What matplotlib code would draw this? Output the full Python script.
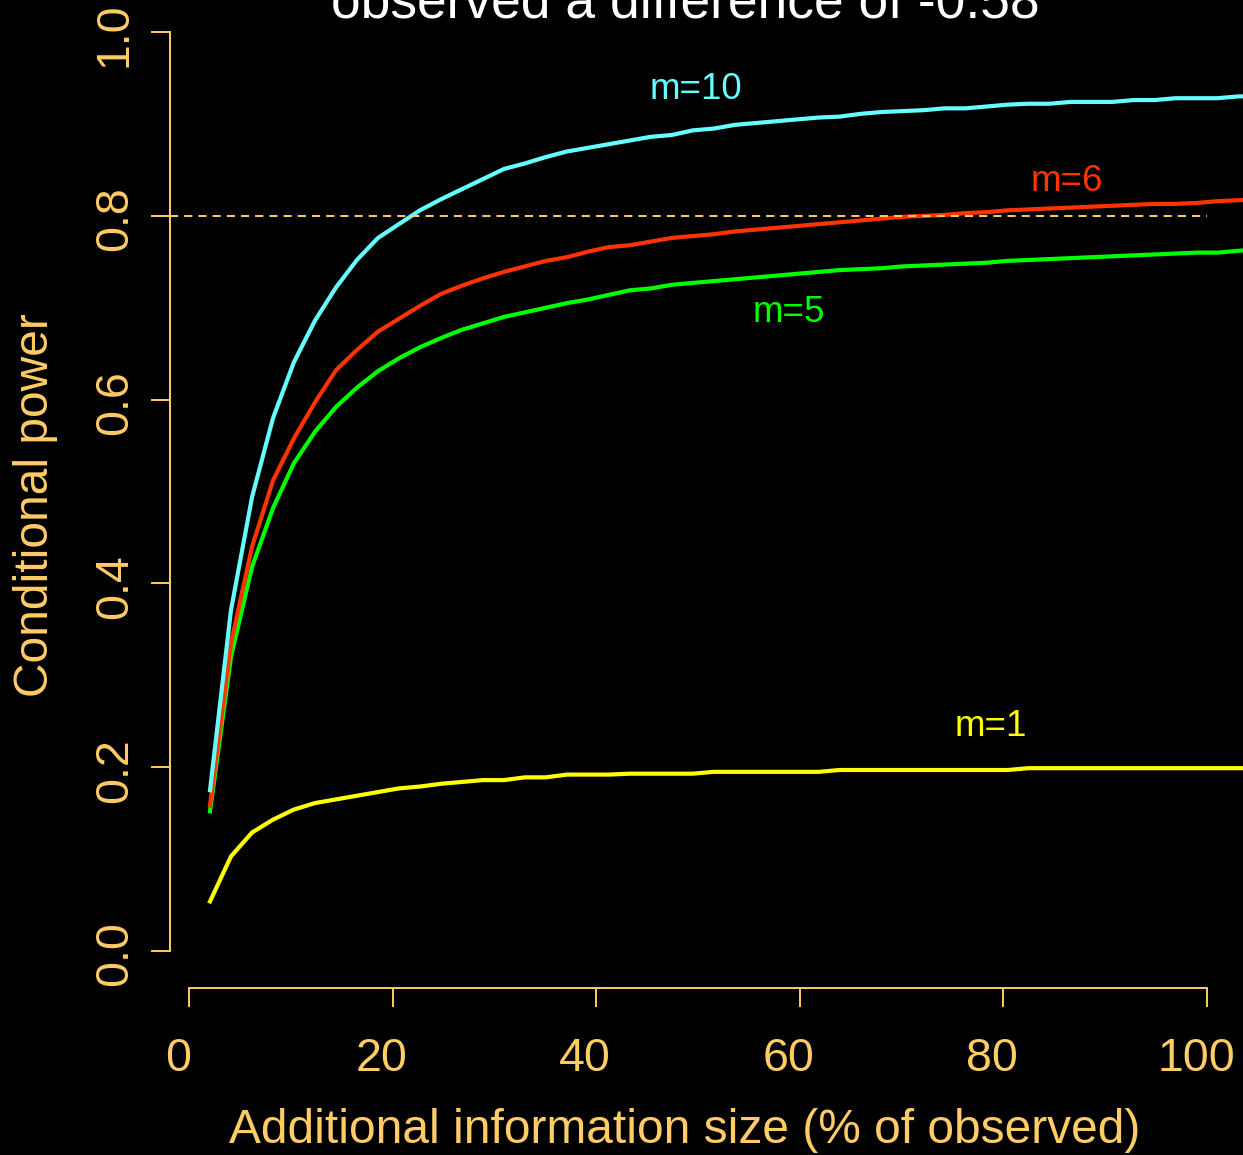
import matplotlib
matplotlib.use("Agg")
import matplotlib.pyplot as plt
from matplotlib.transforms import ScaledTranslation

plt.rcParams['font.family'] = ['Liberation Sans', 'DejaVu Sans']

# additional information size (% of observed)
x_pct = [2.06, 4.12, 6.19, 8.25, 10.31, 12.37, 14.43, 16.49, 18.56, 20.62,
         22.68, 24.74, 26.80, 28.87, 30.93, 32.99, 35.05, 37.11, 39.18, 41.24,
         43.30, 45.36, 47.42, 49.48, 51.55, 53.61, 55.67, 57.73, 59.79, 61.86,
         63.92, 65.98, 68.04, 70.10, 72.16, 74.23, 76.29, 78.35, 80.41, 82.47,
         84.54, 86.60, 88.66, 90.72, 92.78, 94.85, 96.91, 98.97, 101.03, 103.09,
         105.15]

# conditional power for each m
cp_m1 = [0.054, 0.103, 0.129, 0.143, 0.154, 0.161, 0.165, 0.169, 0.173, 0.177,
         0.179, 0.182, 0.184, 0.186, 0.186, 0.189, 0.189, 0.192, 0.192, 0.192,
         0.193, 0.193, 0.193, 0.193, 0.195, 0.195, 0.195, 0.195, 0.195, 0.195,
         0.197, 0.197, 0.197, 0.197, 0.197, 0.197, 0.197, 0.197, 0.197, 0.199,
         0.199, 0.199, 0.199, 0.199, 0.199, 0.199, 0.199, 0.199, 0.199, 0.199,
         0.199]
cp_m5 = [0.152, 0.320, 0.418, 0.482, 0.531, 0.565, 0.592, 0.613, 0.631, 0.645,
         0.657, 0.667, 0.676, 0.683, 0.690, 0.695, 0.700, 0.705, 0.709, 0.714,
         0.719, 0.721, 0.725, 0.727, 0.729, 0.731, 0.733, 0.735, 0.737, 0.739,
         0.741, 0.742, 0.743, 0.745, 0.746, 0.747, 0.748, 0.749, 0.751, 0.752,
         0.753, 0.754, 0.755, 0.756, 0.757, 0.758, 0.759, 0.760, 0.760, 0.762,
         0.764]
cp_m6 = [0.158, 0.335, 0.440, 0.512, 0.558, 0.597, 0.632, 0.654, 0.674, 0.688,
         0.702, 0.715, 0.724, 0.732, 0.739, 0.745, 0.751, 0.755, 0.761, 0.766,
         0.768, 0.772, 0.776, 0.778, 0.780, 0.783, 0.785, 0.787, 0.789, 0.791,
         0.793, 0.795, 0.797, 0.799, 0.800, 0.801, 0.803, 0.804, 0.806, 0.807,
         0.808, 0.809, 0.810, 0.811, 0.812, 0.813, 0.813, 0.814, 0.816, 0.817,
         0.818]
cp_m10 = [0.175, 0.371, 0.494, 0.580, 0.641, 0.686, 0.722, 0.752, 0.776, 0.791,
          0.806, 0.818, 0.829, 0.840, 0.851, 0.857, 0.864, 0.870, 0.874, 0.878,
          0.882, 0.886, 0.888, 0.893, 0.895, 0.899, 0.901, 0.903, 0.905, 0.907,
          0.908, 0.911, 0.913, 0.914, 0.915, 0.917, 0.917, 0.919, 0.921, 0.922,
          0.922, 0.924, 0.924, 0.924, 0.926, 0.926, 0.928, 0.928, 0.928, 0.930,
          0.930]

labels = ["m=1", "m=5", "m=6", "m=10"]
label_pos = [(78.8, 0.244), (58.9, 0.695), (86.2, 0.837), (49.8, 0.937)]
colors = ["#FFFF00", "#00FF00", "#FF3300", "#66FFFF"]

fg = "#FFCC66"
fs = 34

fig = plt.figure(figsize=(12.43, 11.55), dpi=100, facecolor="black")
ax = fig.add_axes([169.7 / 1243, 1 - 987.8 / 1155, 1077 / 1243, 992.5 / 1155])
ax.set_facecolor("black")

for y, c in zip([cp_m1, cp_m5, cp_m6, cp_m10], colors):
    ax.plot(x_pct, y, color=c, lw=3.0, solid_joinstyle="round")

# 0.8 reference line
ax.plot([-1.9, 100], [0.8, 0.8], color=fg, lw=1.4, linestyle=(0, (4.2, 3.1)))

for (lx, ly), txt, c in zip(label_pos, labels, colors):
    ax.text(lx, ly, txt, color=c, fontsize=26.5, ha="center", va="center")

ax.set_xlim(-1.9, 103.9)
ax.set_ylim(-0.04, 1.04)

for s in ["top", "right"]:
    ax.spines[s].set_visible(False)
for s in ["left", "bottom"]:
    ax.spines[s].set_color(fg)
    ax.spines[s].set_linewidth(1.4)
ax.spines["left"].set_bounds(0, 1)
ax.spines["bottom"].set_bounds(0, 100)

ax.set_xticks([0, 20, 40, 60, 80, 100])
ax.set_yticks([0, 0.2, 0.4, 0.6, 0.8, 1.0])
ax.set_yticklabels(["0.0", "0.2", "0.4", "0.6", "0.8", "1.0"], rotation=90, va="center")
ax.tick_params(colors=fg, labelcolor=fg, labelsize=33.5, length=13.7, width=1.4,
               direction="out")
ax.tick_params(axis="x", pad=22)
ax.tick_params(axis="y", pad=10)

for lab in ax.get_xticklabels():
    lab.set_transform(lab.get_transform() + ScaledTranslation(-0.11, 0, fig.dpi_scale_trans))
for lab in ax.get_yticklabels():
    lab.set_transform(lab.get_transform() + ScaledTranslation(0, -0.03, fig.dpi_scale_trans))

fig.text(36 / 1243, 1 - 505 / 1155, "Conditional power", color=fg, fontsize=fs + 0.5,
         rotation=90, ha="center", va="center")
fig.text(685 / 1243, 1 - 1143 / 1155, "Additional information size (% of observed)",
         color=fg, fontsize=fs + 0.5, ha="center", va="baseline")
fig.text(685 / 1243, 1 - 18 / 1155, "observed a difference of -0.58",
         color="white", fontsize=38.4, ha="center", va="baseline")

fig.savefig("out.png", dpi=100, facecolor="black")
